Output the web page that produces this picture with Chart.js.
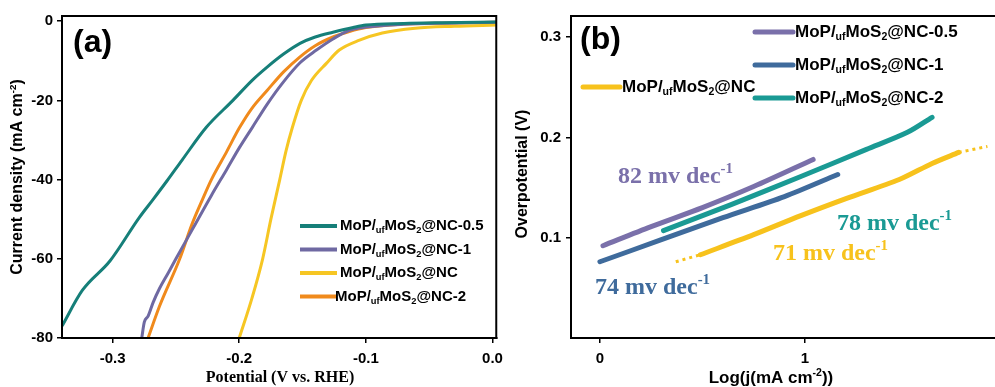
<!DOCTYPE html>
<html>
<head>
<meta charset="utf-8">
<script src="https://cdn.jsdelivr.net/npm/chart.js@4.4.1/dist/chart.umd.min.js"></script>
<style>
body{margin:0;background:#fff;}
#wrap{position:relative;width:995px;height:387px;overflow:hidden;background:#fff;}
#boxA{position:absolute;left:0;top:0;width:510px;height:387px;}
#boxB{position:absolute;left:500px;top:0;width:495px;height:387px;}
</style>
</head>
<body>
<div id="wrap">
  <div id="boxA"><canvas id="chartA"></canvas></div>
  <div id="boxB"><canvas id="chartB"></canvas></div>
</div>
<script>
// ---- panel (a): LSV curves, potential (V vs RHE) / current density (mA cm-2)
var tealV   = [-0.34,-0.324,-0.302,-0.279,-0.268,-0.257,-0.245,-0.226,-0.205,-0.19,-0.178,-0.165,-0.152,-0.14,-0.126,-0.11,-0.1,-0.07,-0.04,0.003];
var tealJ   = [-77,-68,-60.5,-49.6,-45,-40.3,-35,-26.8,-20,-15,-11.6,-8.3,-5.6,-4,-2.8,-1.6,-1,-0.6,-0.4,-0.2];
var purpleV = [-0.277,-0.275,-0.272,-0.268,-0.263,-0.256,-0.25,-0.236,-0.222,-0.21,-0.2,-0.19,-0.178,-0.166,-0.152,-0.139,-0.126,-0.113,-0.1,-0.07,0.003];
var purpleJ = [-80,-76,-74.5,-71,-67.5,-63.5,-60,-52,-44,-37.5,-32,-27,-21,-15.7,-10.5,-7.3,-4.5,-2.3,-1.5,-0.8,-0.3];
var yellowV = [-0.2,-0.19,-0.1815,-0.175,-0.168,-0.163,-0.158,-0.151,-0.143,-0.131,-0.121,-0.105,-0.087,-0.061,-0.03,0.003];
var yellowJ = [-80,-70,-60,-50,-40,-32.7,-26.8,-20,-15,-10.6,-7.3,-4.8,-3,-1.8,-1.3,-1];
var orangeV = [-0.272,-0.263,-0.247,-0.237,-0.229,-0.222,-0.21,-0.2,-0.19,-0.178,-0.165,-0.152,-0.14,-0.126,-0.113,-0.1,-0.074,-0.04,0.003];
var orangeJ = [-80,-72,-60,-51,-45,-40,-33,-27,-22,-17.5,-12.8,-9,-6.2,-4,-2.6,-1.6,-0.8,-0.5,-0.3];
var ticksAx = [-0.3,-0.2,-0.1,0];
var ticksAy = [0,-20,-40,-60,-80];
var legendA = ['NC-0.5','NC-1','NC','NC-2'];

// ---- panel (b): Tafel plots, log(j) / overpotential (V)
var t05X = [0.015,0.25,0.5,0.75,1.04];
var t05Y = [0.092,0.111,0.13,0.151,0.178];
var t1X  = [0,0.3,0.6,0.9,1.16];
var t1Y  = [0.076,0.098,0.12,0.141,0.163];
var t2X  = [0.31,0.64,0.98,1.3,1.5,1.62];
var t2Y  = [0.107,0.133,0.161,0.188,0.205,0.22];
var tNCX = [0.49,0.75,0.98,1.2,1.46,1.62,1.75];
var tNCY = [0.083,0.103,0.122,0.139,0.158,0.174,0.185];
var fitLowX = [0.37,0.49], fitLowY = [0.076,0.083];
var fitHighX = [1.75,1.89], fitHighY = [0.185,0.191];
var ticksBx = [0,1];
var ticksBy = [0.1,0.2,0.3];
var slopeText = ['82','74','78','71'];
var slopeX = [0.088,-0.024,1.156,0.844];
var slopeY = [0.161,0.05,0.114,0.084];

var colA = ['#167f79','#6f69a2','#f6c623','#f08a1c'];
var colB = ['#7a70aa','#3f6b9c','#1a9a94','#f7c21c'];

function pts(xs, ys){ return xs.map(function(x,i){ return {x:x, y:ys[i]}; }); }

function sampleParts(suffix){
  return [{t:'MoP/'},{t:'uf',sub:true},{t:'MoS'},{t:'2',sub:true},{t:'@'+suffix}];
}

// draws text made of normal / sub / sup pieces, x is left edge, y is middle
function drawRich(ctx, parts, x, y, size, family, color){
  ctx.save();
  ctx.fillStyle = color;
  ctx.textBaseline = 'middle';
  ctx.textAlign = 'left';
  parts.forEach(function(p){
    var s = (p.sub || p.sup) ? size*0.62 : size;
    var dy = p.sub ? size*0.3 : (p.sup ? -size*0.3 : 0);
    ctx.font = 'bold ' + s + 'px ' + family;
    ctx.fillText(p.t, x, y + dy);
    x += ctx.measureText(p.t).width;
  });
  ctx.restore();
  return x;
}
function richWidth(ctx, parts, size, family){
  var w = 0;
  ctx.save();
  parts.forEach(function(p){
    var s = (p.sub || p.sup) ? size*0.62 : size;
    ctx.font = 'bold ' + s + 'px ' + family;
    w += ctx.measureText(p.t).width;
  });
  ctx.restore();
  return w;
}

var SANS = '"Liberation Sans", Arial, sans-serif';
var SERIF = '"Liberation Serif", "Times New Roman", serif';

function lineDs(data, color, width){
  return {data:data, borderColor:color, backgroundColor:color, borderWidth:width,
          pointRadius:0, fill:false, cubicInterpolationMode:'monotone'};
}

function axisCommon(){
  return {
    type:'linear',
    border:{color:'#000', width:2},
    grid:{drawOnChartArea:false, color:'#000', tickColor:'#000', tickLength:5, lineWidth:1.5},
    ticks:{color:'#000', font:{family:SANS, size:15, weight:'bold'}}
  };
}

// ---------- chart (a)
var axA = axisCommon();
axA.min = -0.34; axA.max = 0.003;
axA.afterBuildTicks = function(s){ s.ticks = ticksAx.map(function(v){ return {value:v}; }); };
axA.afterFit = function(s){ s.height = 49; };
axA.ticks.padding = 7;
axA.ticks.callback = function(v){ return v === 0 ? '0.0' : v.toFixed(1); };

var ayA = axisCommon();
ayA.min = -80; ayA.max = 1.3;
ayA.afterBuildTicks = function(s){ s.ticks = ticksAy.map(function(v){ return {value:v}; }); };
ayA.afterFit = function(s){ s.width = 62; };
ayA.ticks.padding = 4;
ayA.ticks.callback = function(v){ return String(v); };

var decorA = {
  id:'decorA',
  afterDraw:function(chart){
    var ctx = chart.ctx, a = chart.chartArea;
    ctx.save();
    ctx.strokeStyle = '#000'; ctx.lineWidth = 2;
    ctx.strokeRect(a.left, a.top, a.right - a.left, a.bottom - a.top);
    ctx.fillStyle = '#000';
    ctx.font = 'bold 32px ' + SANS;
    ctx.textBaseline = 'middle';
    ctx.fillText('(a)', a.left + 11, a.top + 27);
    // legend
    legendA.forEach(function(name, i){
      var y = a.top + 210 + i*23.5;
      ctx.strokeStyle = colA[i]; ctx.lineWidth = 4;
      ctx.beginPath(); ctx.moveTo(a.left + 238, y); ctx.lineTo(a.left + 275, y); ctx.stroke();
      drawRich(ctx, sampleParts(name), a.left + (i === 3 ? 273 : 278), y, 15, SANS, '#000');
    });
    // axis titles
    var yt = [{t:'Current density (mA cm'},{t:'-2',sup:true},{t:')'}];
    ctx.translate(18, 177);
    ctx.rotate(-Math.PI/2);
    drawRich(ctx, yt, -richWidth(ctx, yt, 16, SANS)/2, 0, 16, SANS, '#000');
    ctx.restore();
    ctx.save();
    ctx.fillStyle = '#000';
    ctx.font = 'bold 16px ' + SERIF;
    ctx.textAlign = 'center'; ctx.textBaseline = 'middle';
    ctx.fillText('Potential (V vs. RHE)', 280, 378);
    ctx.restore();
  }
};

new Chart(document.getElementById('chartA'), {
  type:'line',
  data:{datasets:[
    lineDs(pts(tealV, tealJ), colA[0], 3),
    lineDs(pts(purpleV, purpleJ), colA[1], 3),
    lineDs(pts(yellowV, yellowJ), colA[2], 3),
    lineDs(pts(orangeV, orangeJ), colA[3], 3)
  ]},
  options:{
    responsive:true, maintainAspectRatio:false, animation:false,
    layout:{padding:{left:0, right:13, top:16, bottom:0}},
    plugins:{legend:{display:false}, tooltip:{enabled:false}},
    scales:{x:axA, y:ayA}
  },
  plugins:[decorA]
});

// ---------- chart (b)
var axB = axisCommon();
axB.min = -0.141; axB.max = 1.927;
axB.afterBuildTicks = function(s){ s.ticks = ticksBx.map(function(v){ return {value:v}; }); };
axB.afterFit = function(s){ s.height = 49; };
axB.ticks.padding = 7;
axB.ticks.callback = function(v){ return String(v); };

var ayB = axisCommon();
ayB.min = 0; ayB.max = 0.321;
ayB.afterBuildTicks = function(s){ s.ticks = ticksBy.map(function(v){ return {value:v}; }); };
ayB.afterFit = function(s){ s.width = 71; };
ayB.ticks.padding = 5;
ayB.ticks.callback = function(v){ return v.toFixed(1); };

var decorB = {
  id:'decorB',
  afterDraw:function(chart){
    var ctx = chart.ctx, a = chart.chartArea;
    var sx = chart.scales.x, sy = chart.scales.y;
    ctx.save();
    ctx.strokeStyle = '#000'; ctx.lineWidth = 2;
    ctx.beginPath(); ctx.moveTo(a.left, a.top); ctx.lineTo(a.right, a.top); ctx.stroke();
    ctx.fillStyle = '#000';
    ctx.font = 'bold 32px ' + SANS;
    ctx.textBaseline = 'middle';
    ctx.fillText('(b)', a.left + 9, a.top + 24);
    // legend
    var rows = [
      {name:'NC-0.5', c:colB[0], x0:184, x1:222, tx:224, y:16},
      {name:'NC-1',   c:colB[1], x0:184, x1:222, tx:224, y:49},
      {name:'NC-2',   c:colB[2], x0:184, x1:222, tx:224, y:82},
      {name:'NC',     c:colB[3], x0:12,  x1:49,  tx:51,  y:71}
    ];
    rows.forEach(function(r){
      ctx.strokeStyle = r.c; ctx.lineWidth = 5; ctx.lineCap = 'round';
      ctx.beginPath(); ctx.moveTo(a.left + r.x0, a.top + r.y); ctx.lineTo(a.left + r.x1, a.top + r.y); ctx.stroke();
      drawRich(ctx, sampleParts(r.name), a.left + r.tx, a.top + r.y, 17, SANS, '#000');
    });
    // Tafel slope labels
    slopeText.forEach(function(t, i){
      var px = sx.getPixelForValue(slopeX[i]);
      var py = sy.getPixelForValue(slopeY[i]);
      drawRich(ctx, [{t:t + ' mv dec'},{t:'-1',sup:true}], px, py, 24, SERIF, colB[i]);
    });
    // axis titles
    ctx.translate(23, 174);
    ctx.rotate(-Math.PI/2);
    ctx.fillStyle = '#000';
    ctx.font = 'bold 16px ' + SANS;
    ctx.textAlign = 'center'; ctx.textBaseline = 'middle';
    ctx.fillText('Overpotential (V)', 0, 0);
    ctx.restore();
    ctx.save();
    var xt = [{t:'Log(j(mA cm'},{t:'-2',sup:true},{t:'))'}];
    drawRich(ctx, xt, 271 - richWidth(ctx, xt, 17, SANS)/2, 378, 17, SANS, '#000');
    ctx.restore();
  }
};

var dashed = function(data){
  return {data:data, borderColor:colB[3], borderWidth:3, borderDash:[3,4],
          pointRadius:0, fill:false};
};

function tafelDs(xs, ys, color){
  var d = lineDs(pts(xs, ys), color, 5);
  d.cubicInterpolationMode = 'default';
  d.tension = 0.3;
  d.borderCapStyle = 'round';
  return d;
}

new Chart(document.getElementById('chartB'), {
  type:'line',
  data:{datasets:[
    tafelDs(t05X, t05Y, colB[0]),
    tafelDs(t1X, t1Y, colB[1]),
    tafelDs(t2X, t2Y, colB[2]),
    tafelDs(tNCX, tNCY, colB[3]),
    dashed(pts(fitLowX, fitLowY)),
    dashed(pts(fitHighX, fitHighY))
  ]},
  options:{
    responsive:true, maintainAspectRatio:false, animation:false,
    layout:{padding:{left:0, right:0, top:16, bottom:0}},
    plugins:{legend:{display:false}, tooltip:{enabled:false}},
    scales:{x:axB, y:ayB}
  },
  plugins:[decorB]
});
</script>
</body>
</html>
